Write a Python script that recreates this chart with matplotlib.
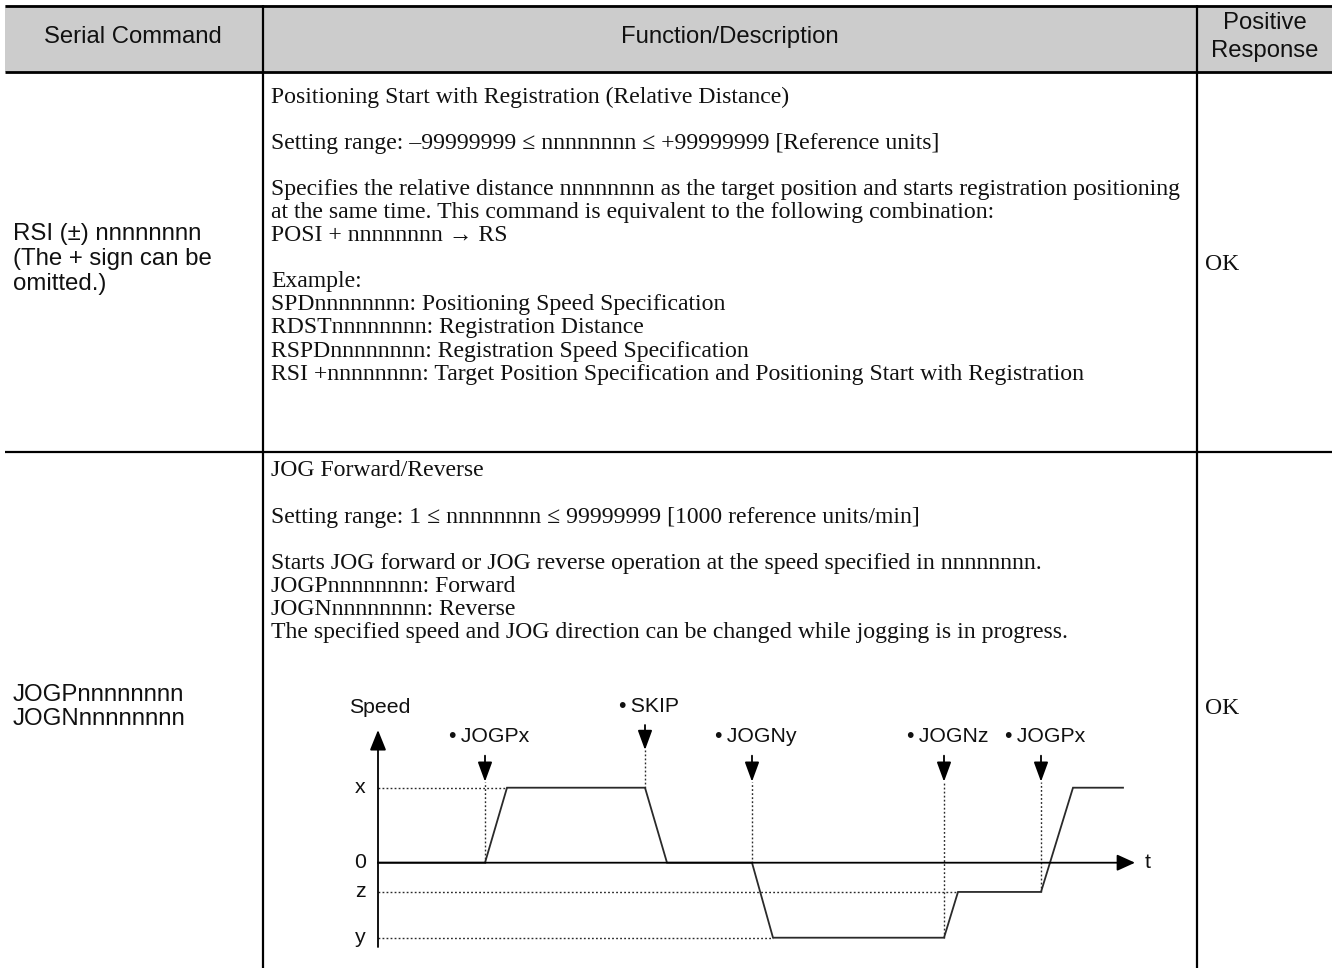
import matplotlib
matplotlib.use("Agg")
import matplotlib.pyplot as plt
from matplotlib.patches import Rectangle

# ---------------- data ----------------
header_cols = ["Serial Command", "Function/Description", "Positive\nResponse"]

row1_cmd = ["RSI (\u00b1) nnnnnnnn", "(The + sign can be", "omitted.)"]
row1_desc = [
    ("Positioning Start with Registration (Relative Distance)", 0),
    ("Setting range: \u201399999999 \u2264 nnnnnnnn \u2264 +99999999 [Reference units]", 2),
    ("Specifies the relative distance nnnnnnnn as the target position and starts registration positioning", 4),
    ("at the same time. This command is equivalent to the following combination:", 5),
    ("POSI + nnnnnnnn \u2192 RS", 6),
    ("Example:", 8),
    ("SPDnnnnnnnn: Positioning Speed Specification", 9),
    ("RDSTnnnnnnnn: Registration Distance", 10),
    ("RSPDnnnnnnnn: Registration Speed Specification", 11),
    ("RSI +nnnnnnnn: Target Position Specification and Positioning Start with Registration", 12),
]
row1_resp = "OK"

row2_cmd = ["JOGPnnnnnnnn", "JOGNnnnnnnnn"]
row2_desc = [
    ("JOG Forward/Reverse", 0),
    ("Setting range: 1 \u2264 nnnnnnnn \u2264 99999999 [1000 reference units/min]", 2),
    ("Starts JOG forward or JOG reverse operation at the speed specified in nnnnnnnn.", 4),
    ("JOGPnnnnnnnn: Forward", 5),
    ("JOGNnnnnnnnn: Reverse", 6),
    ("The specified speed and JOG direction can be changed while jogging is in progress.", 7),
]
row2_resp = "OK"

# speed profile (time units, speed: x=1, z, y=-1)
level_names = ["x", "0", "z", "y"]
level_values = [1.0, 0.0, -0.39, -1.0]
profile_t = [0.0, 10.7, 12.9, 26.7, 28.9, 37.4, 39.5, 56.6, 58.0, 66.3, 69.5, 74.5]
profile_v = [0.0, 0.0, 1.0, 1.0, 0.0, 0.0, -1.0, -1.0, -0.39, -0.39, 1.0, 1.0]
event_labels = ["\u2022\u2009JOGPx", "\u2022\u2009SKIP", "\u2022\u2009JOGNy", "\u2022\u2009JOGNz", "\u2022\u2009JOGPx"]
event_t = [10.7, 26.7, 37.4, 56.6, 66.3]
event_high = [False, True, False, False, False]
# dotted guide: (level, t_end)
level_guides = [(1.0, 12.9), (-0.39, 58.0), (-1.0, 39.5)]
# vertical dotted guides (t, v_from, v_to)
vert_guides = [(10.7, 0.0, 1.08), (26.7, 1.0, 1.50), (37.4, 0.0, 1.08),
               (56.6, -1.0, 1.08), (66.3, -0.39, 1.08)]

# ---------------- layout ----------------
W, H = 1332, 968
fig = plt.figure(figsize=(W / 100, H / 100), dpi=100)
ax = fig.add_axes([0, 0, 1, 1])
ax.set_xlim(0, W)
ax.set_ylim(H, 0)
ax.axis("off")

SANS = ["Liberation Sans", "DejaVu Sans"]
SERIF = ["Liberation Serif", "DejaVu Serif"]
TXT = "#111111"

ax.add_patch(Rectangle((5, 5), W - 5, 67, facecolor="#cccccc", edgecolor="none", zorder=0))
ax.plot([5, W], [5.5, 5.5], color="black", lw=2.0, solid_capstyle="butt")
ax.plot([5, W], [72, 72], color="black", lw=2.0, solid_capstyle="butt")
ax.plot([5, W], [452, 452], color="black", lw=1.6, solid_capstyle="butt")
ax.plot([263, 263], [5, H], color="black", lw=1.6, solid_capstyle="butt")
ax.plot([1197, 1197], [5, H], color="black", lw=1.6, solid_capstyle="butt")

hfs = 17.2
ax.text(133, 37, header_cols[0], ha="center", va="center", fontsize=hfs, family=SANS, color=TXT)
ax.text(730, 37, header_cols[1], ha="center", va="center", fontsize=hfs, family=SANS, color=TXT)
ax.text(1265, 37, header_cols[2], ha="center", va="center", fontsize=hfs, family=SANS, color=TXT,
        linespacing=1.38)

sfs = 17.1
lh = 23.1
cfs = 17.3
for i, s in enumerate(row1_cmd):
    ax.text(13, 234 + 25 * i, s, ha="left", va="center", fontsize=cfs, family=SANS, color=TXT)
for s, k in row1_desc:
    ax.text(271, 97 + lh * k, s, ha="left", va="center", fontsize=sfs, family=SERIF, color=TXT)
ax.text(1205, 264, row1_resp, ha="left", va="center", fontsize=sfs, family=SERIF, color=TXT)

for i, s in enumerate(row2_cmd):
    ax.text(13, 695 + 24 * i, s, ha="left", va="center", fontsize=cfs, family=SANS, color=TXT)
for s, k in row2_desc:
    ax.text(271, 471 + lh * k, s, ha="left", va="center", fontsize=sfs, family=SERIF, color=TXT)
ax.text(1205, 708, row2_resp, ha="left", va="center", fontsize=sfs, family=SERIF, color=TXT)

# ---------------- diagram ----------------
px0, px1 = 378, 1135          # t axis extents in pixels
py_top, py_bot = 730, 947     # speed axis extents
py_zero, unit = 862.7, 75.0
tmax = 75.7
vmin = (py_zero - py_bot) / unit
vmax = (py_zero - py_top) / unit
dax = fig.add_axes([px0 / W, 1 - py_bot / H, (px1 - px0) / W, (py_bot - py_top) / H])
dax.set_xlim(0, tmax)
dax.set_ylim(vmin, vmax)
dax.axis("off")

LC = "#2a2a2a"
dot = (0, (1.3, 1.6))
dfs = 15.3
# axes arrows
dax.annotate("", xy=(0, vmax), xytext=(0, vmin), annotation_clip=False,
             arrowprops=dict(arrowstyle="-|>,head_length=0.62,head_width=0.25", mutation_scale=20,
                             color="black", lw=1.3, shrinkA=0, shrinkB=0))
dax.annotate("", xy=(tmax, 0), xytext=(0, 0), annotation_clip=False,
             arrowprops=dict(arrowstyle="-|>,head_length=0.55,head_width=0.25", mutation_scale=20,
                             color="black", lw=1.3, shrinkA=0, shrinkB=0))
dax.text(tmax + 1.0, 0, "t", ha="left", va="center", fontsize=dfs, family=SANS, color=TXT)
dax.text(0.2, vmax + 0.30, "Speed", ha="center", va="center", fontsize=dfs, family=SANS, color=TXT,
         clip_on=False)
for name, v in zip(level_names, level_values):
    dax.text(-1.8, v, name, ha="center", va="center", fontsize=dfs, family=SANS, color=TXT)

for v, tend in level_guides:
    dax.plot([0, tend], [v, v], color=LC, lw=1.0, linestyle=dot, clip_on=False)
for t, v0, v1 in vert_guides:
    dax.plot([t, t], [v0, v1], color=LC, lw=1.0, linestyle=dot, clip_on=False)

dax.plot(profile_t, profile_v, color=LC, lw=1.3, clip_on=False, solid_joinstyle="miter")

for lab, t, hi in zip(event_labels, event_t, event_high):
    tip = 1.503 if hi else 1.08
    start = 1.836 if hi else 1.427
    dax.annotate("", xy=(t, tip), xytext=(t, start), annotation_clip=False,
                 arrowprops=dict(arrowstyle="-|>,head_length=0.6,head_width=0.22", mutation_scale=20,
                                 color="black", lw=1.3, shrinkA=0, shrinkB=0))
    dax.text(t + 0.4, start + 0.25, lab, ha="center", va="center", fontsize=dfs, family=SANS,
             color=TXT, clip_on=False)

fig.savefig("out.png", dpi=100)
